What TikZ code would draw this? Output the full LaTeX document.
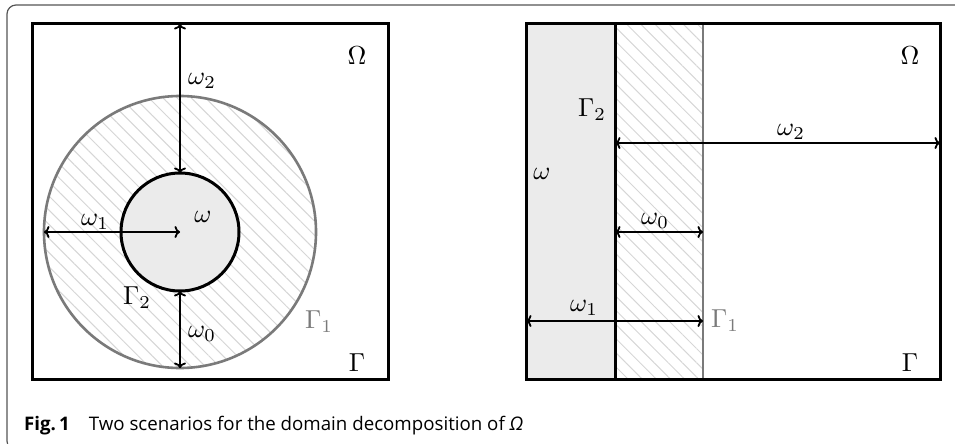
\documentclass[tikz,border=0pt]{standalone}
\usepackage{fontspec}
\newfontfamily\capfont{Open Sans}
\usetikzlibrary{patterns.meta,arrows.meta}
\definecolor{lgray}{HTML}{EBEBEB}
\definecolor{mgray}{HTML}{7A7A7A}
\definecolor{hgray}{HTML}{D6D6D6}
\definecolor{fgray}{HTML}{555555}
\begin{document}
\begin{tikzpicture}[x=1pt,y=-1pt,
  sq/.style={line width=3pt,black},
  inner/.style={line width=3pt,black},
  outer/.style={line width=2.6pt,mgray},
  hatch/.style={pattern={Lines[angle=-45,distance=10pt,line width=1pt]},pattern color=hgray},
  dim/.style={line width=1.8pt,black,{Computer Modern Rightarrow[length=5.5pt,width=12pt]}-{Computer Modern Rightarrow[length=5.5pt,width=12pt]}},
  lab/.style={inner sep=0pt,scale=2.6},
  glab/.style={lab,text=mgray}]
\useasboundingbox (0,0) rectangle (955,444);
% outer frame
\draw[fgray,line width=1.2pt,rounded corners=9pt] (960,5) -- (7,5) -- (7,450) -- (30,450);
% ---------- left scenario ----------
\coordinate (c) at (180,232);
\fill[white] (32,24) rectangle (388,379);
\path[hatch] (c) circle[radius=136];
\draw[outer] (c) circle[radius=136];
\fill[lgray] (c) circle[radius=59];
\draw[inner] (c) circle[radius=59];
\draw[sq] (32,24) rectangle (388,379);
\coordinate (topL) at (180,24);
\coordinate (inTop) at (180,173);
\coordinate (inBot) at (180,291);
\coordinate (outBot) at (180,368);
\coordinate (outLeft) at (44,232);
\draw[dim] (topL) -- (inTop);
\draw[dim] (inBot) -- (outBot);
\draw[dim] (outLeft) -- (c);
\node[lab] (OmL) at (357,56) {$\Omega$};
\node[lab] (w2L) at (202,81) {$\omega_2$};
\node[lab] (w1L) at (95,222) {$\omega_1$};
\node[lab] (wL) at (203,217) {$\omega$};
\node[lab] (G2L) at (137,298) {$\Gamma_2$};
\node[lab] (w0L) at (202,334) {$\omega_0$};
\node[glab] (G1L) at (319,322) {$\Gamma_1$};
\node[lab] (GL) at (357,363) {$\Gamma$};
% ---------- right scenario ----------
\fill[lgray] (526,24) rectangle (615,379);
\path[hatch] (615,24) rectangle (703,379);
\draw[inner] (615,24) -- (615,379);
\draw[outer] (703,24) -- (703,379);
\draw[sq] (526,24) rectangle (940,379);
\coordinate (a2) at (615,143);
\coordinate (b2) at (940,143);
\coordinate (a0) at (615,232);
\coordinate (b0) at (703,232);
\coordinate (a1) at (526,321);
\coordinate (b1) at (703,321);
\draw[dim] (a2) -- (b2);
\draw[dim] (a0) -- (b0);
\draw[dim] (a1) -- (b1);
\node[lab] (OmR) at (910,56) {$\Omega$};
\node[lab] (G2R) at (592,110) {$\Gamma_2$};
\node[lab] (w2R) at (791,132) {$\omega_2$};
\node[lab] (wR) at (542,174) {$\omega$};
\node[lab] (w0R) at (655,221) {$\omega_0$};
\node[lab] (w1R) at (584,308) {$\omega_1$};
\node[glab] (G1R) at (725,321) {$\Gamma_1$};
\node[lab] (GR) at (910,363) {$\Gamma$};
% caption
\node[anchor=base west,inner sep=0pt,font=\capfont\fontsize{18.7}{22}\selectfont] (cap) at (24,430)
  {\textbf{Fig.\,1}\hspace{19pt}Two scenarios for the domain decomposition of \textit{Ω}};
\end{tikzpicture}
\end{document}
